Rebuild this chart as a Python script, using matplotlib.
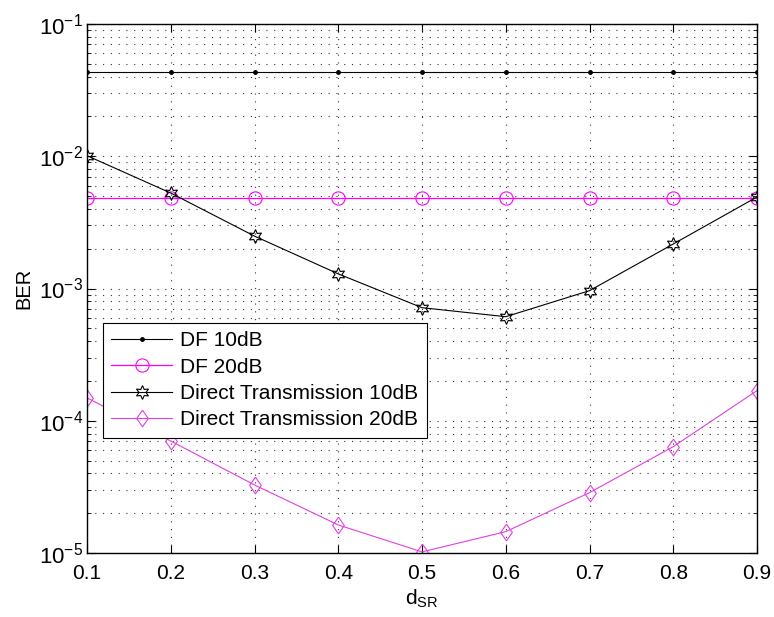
import matplotlib
matplotlib.use("Agg")
import matplotlib.pyplot as plt
from matplotlib.ticker import LogLocator, FixedLocator, NullFormatter

plt.rcParams['font.family'] = ['Liberation Sans', 'DejaVu Sans']
plt.rcParams['mathtext.fontset'] = 'custom'
plt.rcParams['mathtext.rm'] = 'Liberation Sans'
plt.rcParams['mathtext.it'] = 'Liberation Sans'

d_sr = [0.1, 0.2, 0.3, 0.4, 0.5, 0.6, 0.7, 0.8, 0.9]
df_10 = [0.0433] * 9
df_20 = [0.00483] * 9
direct_10 = [0.0101, 0.00527, 0.00249, 0.00129, 0.000716, 0.000612, 0.000963, 0.00217, 0.00492]
direct_20 = [1.49e-4, 7.03e-5, 3.27e-5, 1.63e-5, 1.02e-5, 1.45e-5, 2.86e-5, 6.37e-5, 1.69e-4]
labels = ['DF 10dB', 'DF 20dB', 'Direct Transmission 10dB', 'Direct Transmission 20dB']

diamond = [(0, 1), (0.7, 0), (0, -1), (-0.7, 0), (0, 1)]

fig = plt.figure(figsize=(7.74, 6.17), dpi=100)
ax = fig.add_axes([87/774, 1-553/617, (757-87)/774, (553-24)/617])

ax.semilogy(d_sr, df_10, color='black', lw=0.8, marker='.', ms=5, label=labels[0])
ax.semilogy(d_sr, df_20, color='#ff00ff', lw=0.9, marker='o', ms=9.5, mfc='none', mew=0.8, label=labels[1])
ax.semilogy(d_sr, direct_10, color='black', lw=0.8, marker=(6, 1, 0), ms=10, mfc='none', mew=0.8, label=labels[2])
ax.semilogy(d_sr, direct_20, color='#e040e0', lw=0.8, marker=diamond, ms=12, mfc='none', mew=0.8, label=labels[3])

ax.set_xlim(0.1, 0.9)
ax.set_ylim(1e-5, 1e-1)
ax.xaxis.set_major_locator(FixedLocator(d_sr))
ax.set_xticklabels(['0.1', '0.2', '0.3', '0.4', '0.5', '0.6', '0.7', '0.8', '0.9'])
ax.yaxis.set_major_locator(LogLocator(base=10, numticks=10))
ax.yaxis.set_minor_locator(LogLocator(base=10, subs=range(2, 10), numticks=20))
ax.yaxis.set_minor_formatter(NullFormatter())

ax.tick_params(which='both', direction='in', top=True, right=True)
ax.tick_params(axis='x', labelsize=15)
ax.tick_params(axis='y', labelsize=16, pad=3)
ax.tick_params(which='major', length=6, width=0.8)
ax.tick_params(which='minor', length=3, width=0.6)
ax.tick_params(axis='x', pad=8)

ax.grid(True, which='major', linestyle=(0, (1, 6)), color='#333333', lw=0.8)
ax.grid(True, which='minor', axis='y', linestyle=(0, (1, 6)), color='#333333', lw=0.8)
for s in ax.spines.values():
    s.set_linewidth(1.0)

ax.set_xlabel(r'd$_{\mathrm{SR}}$', fontsize=15, labelpad=3)
ax.set_ylabel('BER', fontsize=14.5, labelpad=4)

leg = ax.legend(loc='upper left', bbox_to_anchor=((103-87)/670, (553-323)/529),
                fontsize=15, frameon=True, fancybox=False, edgecolor='black',
                framealpha=1, borderpad=0.4, labelspacing=0.35, handlelength=2.9,
                handletextpad=0.4, borderaxespad=0)
leg.get_frame().set_linewidth(0.8)

fig.savefig('out.png', dpi=100)
